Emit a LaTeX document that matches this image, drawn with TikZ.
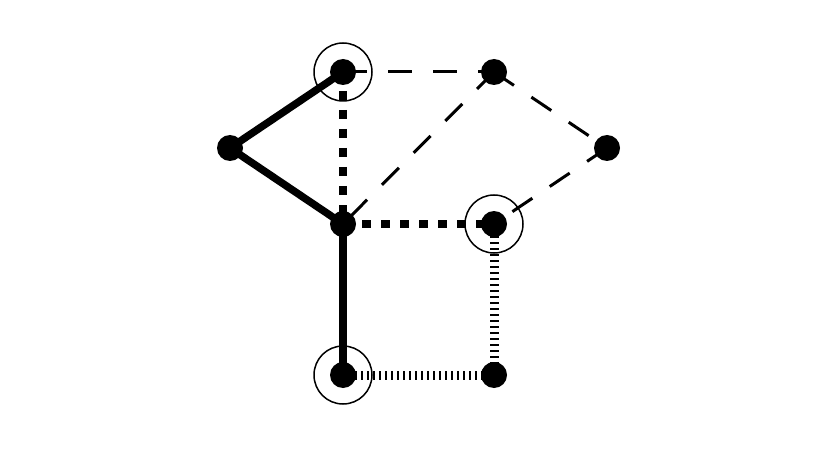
\documentclass[tikz,border=0pt]{standalone}
\usetikzlibrary{backgrounds}
\begin{document}
\begin{tikzpicture}[x=1pt,y=-1pt,
        dot/.style={circle,fill=black,inner sep=0pt,minimum size=26pt},
        tree/.style={line width=7.5pt},
        heavydots/.style={line width=8.5pt,dash pattern=on 9pt off 10pt},
        thindash/.style={line width=3pt,dash pattern=on 24pt off 21pt},
        finedots/.style={line width=9pt,dash pattern=on 2pt off 4pt},
        ring/.style={line width=1.5pt}]
        \useasboundingbox (0,0) rectangle (840,449);

        \node[dot] (a) at (343,72) {};
        \node[dot] (b) at (494,72) {};
        \node[dot] (c) at (230,148) {};
        \node[dot] (d) at (607,148) {};
        \node[dot] (e) at (343,224) {};
        \node[dot] (f) at (494,224) {};
        \node[dot] (g) at (343,375) {};
        \node[dot] (h) at (494,375) {};

        \draw[ring] (a) circle (29);
        \draw[ring] (f) circle (29);
        \draw[ring] (g) circle (29);

        \begin{pgfonlayer}{background}
        \fill[white] (0,0) rectangle (840,449);

        \draw[tree] (a.center) -- (c.center);
        \draw[tree] (c.center) -- (e.center);
        \draw[tree] (e.center) -- (g.center);

        \draw[heavydots] (a.center) -- (e.center);
        \draw[heavydots] (e.center) -- (f.center);

        \draw[thindash] (a.center) -- (b.center);
        \draw[thindash] (b.center) -- (d.center);
        \draw[thindash] (b.center) -- (e.center);
        \draw[thindash] (d.center) -- (f.center);

        \draw[finedots] (f.center) -- (h.center);
        \draw[finedots] (g.center) -- (h.center);
        \end{pgfonlayer}
    \end{tikzpicture}
\end{document}
